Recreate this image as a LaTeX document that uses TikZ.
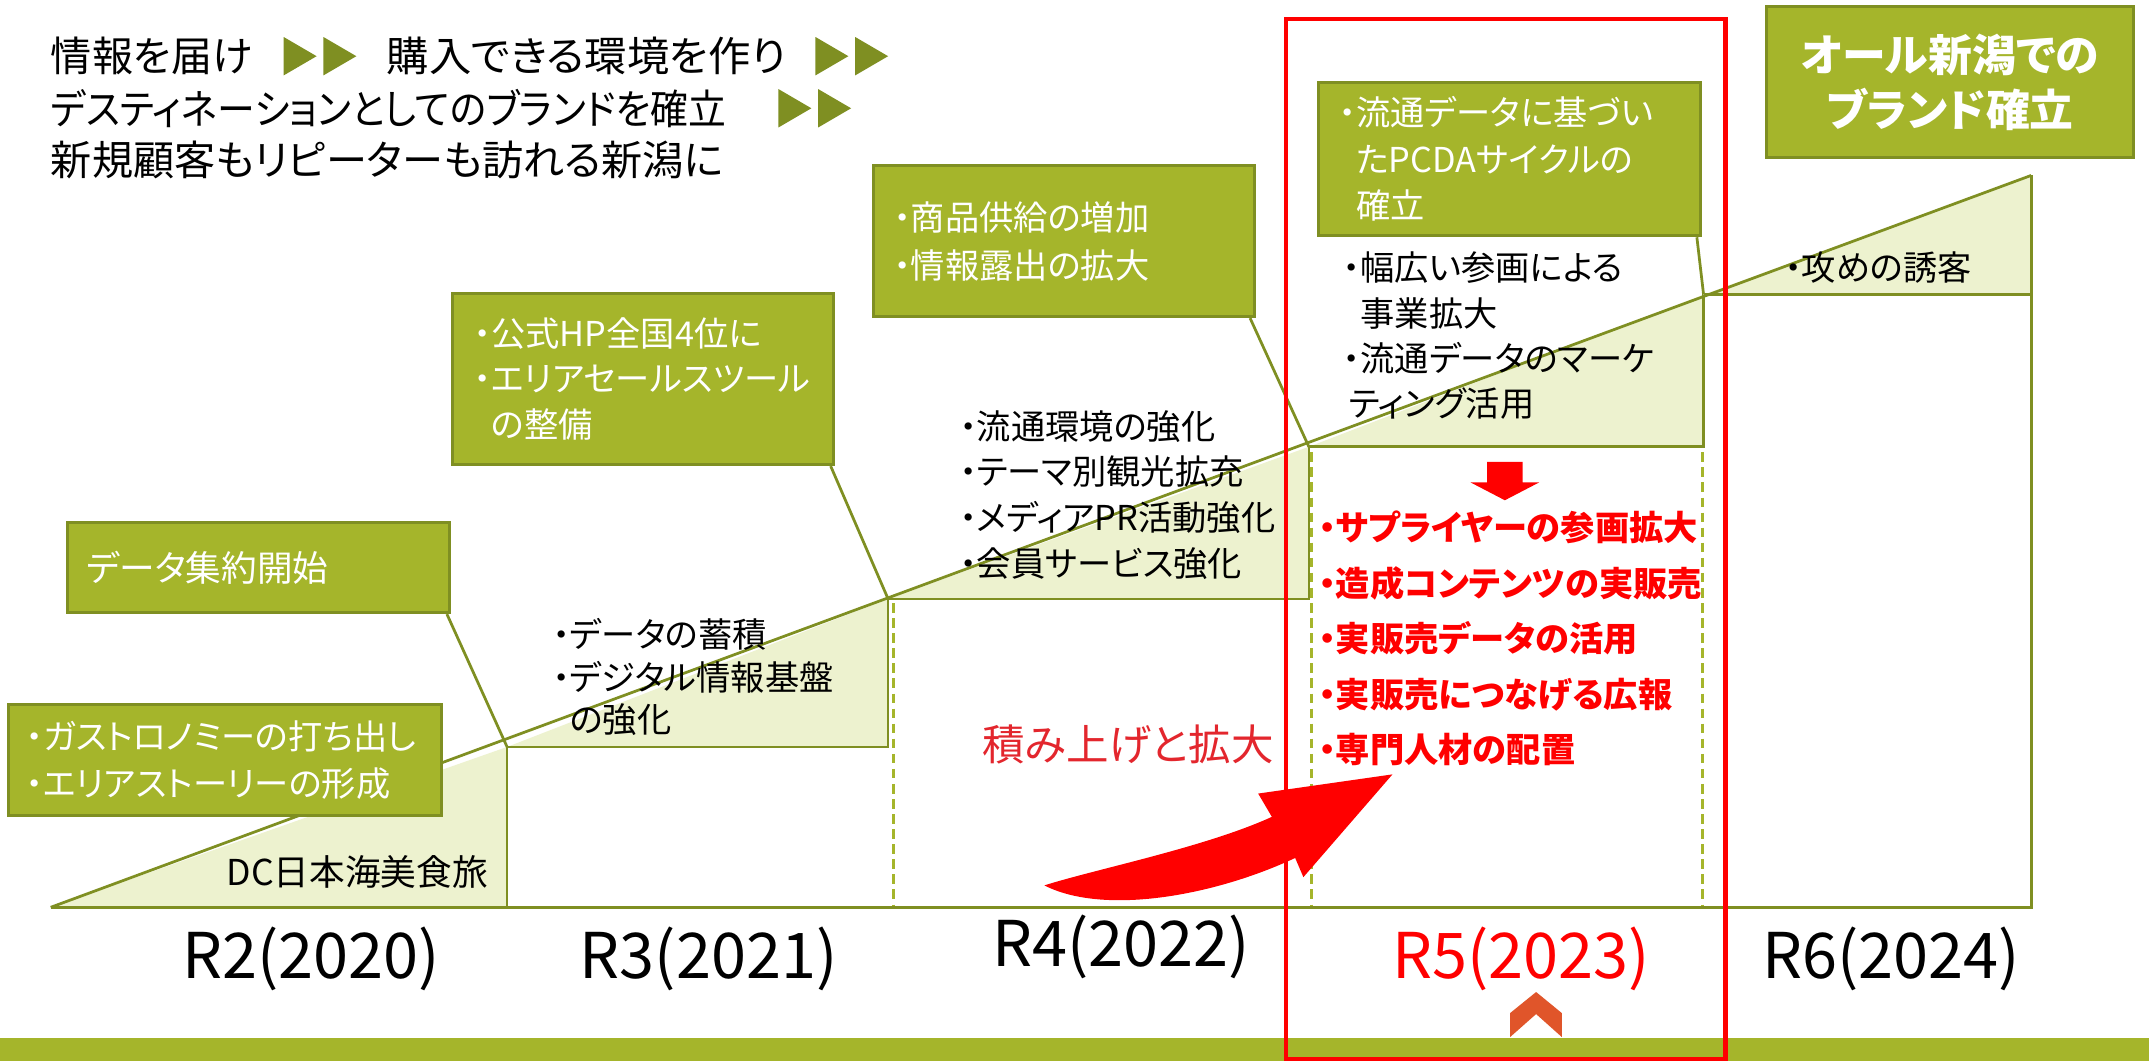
\documentclass[tikz,border=0pt]{standalone}
\usepackage{fontspec}
\setmainfont{Noto Sans CJK JP}[RawFeature=+palt]
\definecolor{olivefill}{HTML}{A5B52B}
\definecolor{oliveline}{HTML}{7F8F22}
\definecolor{lightfill}{HTML}{EDF2CF}
\definecolor{olivetri}{HTML}{7F8F22}
\definecolor{chev}{HTML}{E0552A}
\definecolor{redtxt}{HTML}{E3262D}
\definecolor{pure}{HTML}{FF0000}
\tikzset{
  gbox/.style={draw=oliveline, line width=2.2pt, fill=olivefill, text=white, align=left, inner ysep=0pt},
  stair/.style={draw=oliveline, line width=2pt, line join=miter},
  tri/.style={fill=lightfill},
  dashv/.style={draw=olivefill, line width=2pt, dash pattern=on 7pt off 4pt},
  conn/.style={draw=oliveline, line width=2pt},
  btxt/.style={inner sep=0pt, align=left, text=black},
  hd/.style={inner sep=0pt, anchor=west, font=\fontsize{30}{38}\selectfont},
  yr/.style={inner sep=0pt, font=\fontsize{46}{50}\selectfont},
}
\newcommand{\hdtri}[2]{\fill[olivetri] (#1,#2-14) -- (#1+24,#2) -- (#1,#2+14) -- cycle;}
\begin{document}
\begin{tikzpicture}[x=1pt,y=-1pt]
\useasboundingbox (0,0) rectangle (1568,774);
\fill[white] (0,0) rectangle (1568,774);

% staircase points
\coordinate (P0) at (37,662);
\coordinate (P1) at (370,545);
\coordinate (P2) at (648,437);
\coordinate (P3) at (955,326);
\coordinate (P4) at (1243,215);
\coordinate (P5) at (1482,128);

% triangles
\fill[tri] (P0) -- (P1) -- (370,662) -- cycle;
\fill[tri] (P1) -- (P2) -- (648,545) -- cycle;
\fill[tri] (P2) -- (P3) -- (955,437) -- cycle;
\fill[tri] (P3) -- (P4) -- (1243,326) -- cycle;
\fill[tri] (P4) -- (P5) -- (1482,215) -- cycle;

% dashed verticals
\draw[dashv] (652,440) -- (652,662);
\draw[dashv] (957,330) -- (957,662);
\draw[dashv] (1242,330) -- (1242,662);

% outlines
\draw[stair] (P0) -- (P5);
\draw[stair] (P0) -- (1482,662) -- (P5);
\draw[stair] (P1) -- (370,662);
\draw[stair] (P1) -- (648,545) -- (P2);
\draw[stair] (P2) -- (955,437) -- (P3);
\draw[stair] (P3) -- (1243,326) -- (P4);
\draw[stair] (P4) -- (1482,215);

% green boxes
\node[gbox, minimum width=279pt, minimum height=66pt, text width=251pt, inner xsep=14pt,
      font=\fontsize{26}{34}\selectfont] (boxA) at (188.5,414) {データ集約開始};
\node[gbox, minimum width=316pt, minimum height=81pt, text width=290pt, inner xsep=13pt,
      font=\fontsize{25}{34}\selectfont] (boxB) at (164,554.5) {・ガストロノミーの打ち出し\\・エリアストーリーの形成};
\node[gbox, minimum width=278pt, minimum height=125pt, text width=246pt, inner xsep=16pt,
      font=\fontsize{25}{33.5}\selectfont] (boxC) at (469,276.5) {・公式HP全国4位に\\・エリアセールスツール\\\phantom{・}の整備};
\node[gbox, minimum width=278pt, minimum height=110pt, text width=248pt, inner xsep=15pt,
      font=\fontsize{25}{35}\selectfont] (boxD) at (776,176) {・商品供給の増加\\・情報露出の拡大};
\node[gbox, minimum width=279pt, minimum height=112pt, text width=249pt, inner xsep=15pt,
      font=\fontsize{25}{34}\selectfont] (boxE) at (1101.5,116) {・流通データに基づい\\\phantom{・}たPCDAサイクルの\\\phantom{・}確立};
\node[gbox, minimum width=268pt, minimum height=110pt, text width=248pt, inner xsep=10pt, align=center,
      font=\bfseries\fontsize{32}{40}\selectfont] (boxF) at (1423,60) {オール新潟での\\ブランド確立};

% connectors
\draw[conn] ([xshift=-3pt]boxA.south east) -- (P1);
\draw[conn] ([xshift=-3pt]boxC.south east) -- (P2);
\draw[conn] ([xshift=-4pt]boxD.south east) -- (P3);
\draw[conn] ([xshift=-4pt]boxE.south east) -- (P4);

% heading
\node[hd] (h1a) at (37,41) {情報を届け};
\node[hd] (h1c) at (282,41) {\scalebox{1.03}[1]{購入できる環境を作り}};
\node[hd] (h2a) at (37,79) {\scalebox{0.92}[1]{デスティネーションとしてのブランドを確立}};
\node[hd] (h3) at (37,117) {新規顧客もリピーターも訪れる新潟に};
\hdtri{207}{41}\hdtri{236}{41}
\hdtri{595}{41}\hdtri{624}{41}
\hdtri{568}{79}\hdtri{597}{79}

% black texts
\node[btxt, anchor=east, font=\fontsize{26}{30}\selectfont] (dc) at (356,636) {DC日本海美食旅};
\node[btxt, anchor=west, font=\fontsize{25}{31}\selectfont] (t3) at (403,494) {・データの蓄積\\・デジタル情報基盤\\\phantom{・}の強化};
\node[btxt, anchor=west, font=\fontsize{25}{33.3}\selectfont] (t4) at (700,361) {・流通環境の強化\\・テーマ別観光拡充\\・メディアPR活動強化\\・会員サービス強化};
\node[btxt, anchor=west, font=\fontsize{25}{33}\selectfont] (t5) at (980,245) {・幅広い参画による\\\phantom{・}事業拡大\\・流通データのマーケ\\\hspace*{4pt}ティング活用};
\node[btxt, anchor=west, font=\fontsize{25}{30}\selectfont] (t6) at (1302,195) {・攻めの誘客};

% red texts
\node[btxt, anchor=west, text=pure, font=\bfseries\fontsize{25}{40.5}\selectfont] (rt) at (962,466)
  {・サプライヤーの参画拡大\\・造成コンテンツの実販売\\・実販売データの活用\\・実販売につなげる広報\\・専門人材の配置};
\fill[pure] (1085,337) -- (1111,337) -- (1111,352) -- (1123,352) -- (1098,365) -- (1073,352) -- (1085,352) -- cycle;
\node[btxt, text=redtxt, font=\fontsize{31}{34}\selectfont] (acc) at (823,543) {積み上げと拡大};

% big curved arrow
\fill[pure] (762,646) .. controls (800,634) and (880,618) .. (928,596) -- (918,579) -- (1016,565)
  -- (951,640) -- (945,626) .. controls (885,654) and (805,668) .. (762,646) -- cycle;

% years
\node[yr] (y2) at (227,700) {R2(2020)};
\node[yr] (y3) at (517,700) {R3(2021)};
\node[yr] (y4) at (818,691) {R4(2022)};
\node[yr, text=pure] (y5) at (1110,700) {R5(2023)};
\node[yr] (y6) at (1380,700) {R6(2024)};

% bottom band and chevron
\fill[olivefill] (0,757) rectangle (1568,774);
\fill[chev] (1101.8,739.2) -- (1120.8,723.8) -- (1139.6,739.2) -- (1139.6,756.7) -- (1120.8,739.9) -- (1101.8,756.7) -- cycle;

% red frame
\draw[pure, line width=3pt] (938,14) rectangle (1259,773);
\end{tikzpicture}
\end{document}
